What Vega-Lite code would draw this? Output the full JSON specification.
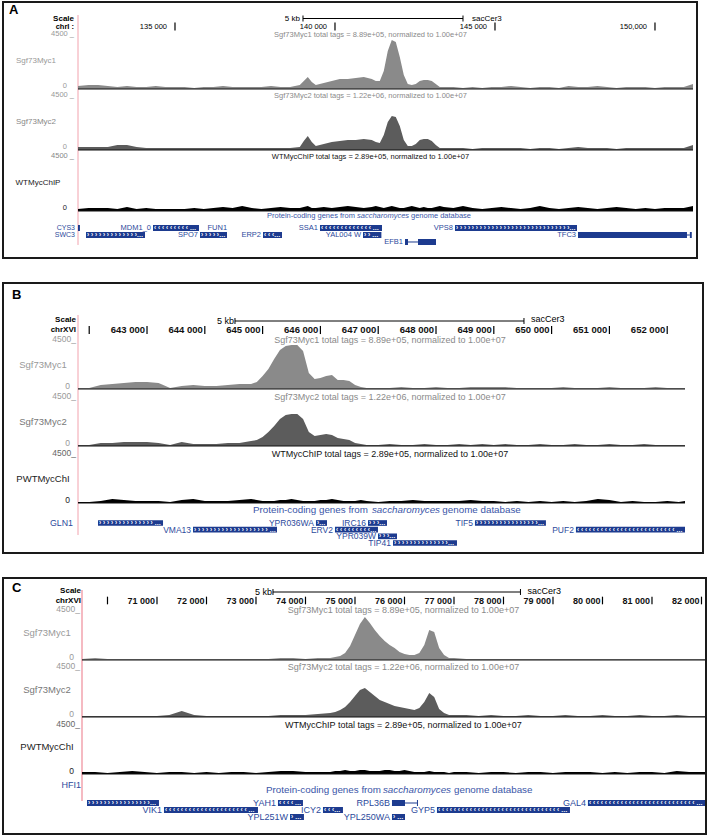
{
"$schema":"https://vega.github.io/schema/vega-lite/v6.json",
"background":"white",
"padding":{"left":2,"top":1,"right":0,"bottom":0},
"spacing":23,
"config":{"font":"Liberation Sans","view":{"stroke":"#1a1a1a","strokeWidth":2}},
"datasets":{
"A":[{"pos":131969,"s1":255,"s2":255,"wt":170},{"pos":132300,"s1":340,"s2":255,"wt":255},{"pos":132600,"s1":340,"s2":255,"wt":255},{"pos":132900,"s1":255,"s2":255,"wt":255},{"pos":133200,"s1":170,"s2":425,"wt":170},{"pos":133500,"s1":255,"s2":425,"wt":340},{"pos":133800,"s1":170,"s2":255,"wt":170},{"pos":134100,"s1":170,"s2":170,"wt":255},{"pos":134400,"s1":255,"s2":170,"wt":170},{"pos":134700,"s1":170,"s2":170,"wt":170},{"pos":135000,"s1":170,"s2":170,"wt":170},{"pos":135300,"s1":170,"s2":170,"wt":170},{"pos":135600,"s1":85,"s2":170,"wt":255},{"pos":135900,"s1":170,"s2":170,"wt":170},{"pos":136200,"s1":170,"s2":170,"wt":255},{"pos":136500,"s1":255,"s2":170,"wt":340},{"pos":136800,"s1":170,"s2":170,"wt":255},{"pos":137100,"s1":170,"s2":170,"wt":425},{"pos":137400,"s1":170,"s2":170,"wt":255},{"pos":137700,"s1":170,"s2":170,"wt":170},{"pos":138000,"s1":255,"s2":170,"wt":255},{"pos":138300,"s1":170,"s2":170,"wt":340},{"pos":138600,"s1":170,"s2":170,"wt":255},{"pos":138900,"s1":340,"s2":255,"wt":255},{"pos":139025,"s1":680,"s2":765,"wt":340},{"pos":139150,"s1":1020,"s2":1190,"wt":425},{"pos":139275,"s1":595,"s2":680,"wt":255},{"pos":139400,"s1":340,"s2":340,"wt":255},{"pos":139650,"s1":510,"s2":510,"wt":340},{"pos":139900,"s1":680,"s2":680,"wt":255},{"pos":140150,"s1":850,"s2":765,"wt":340},{"pos":140400,"s1":850,"s2":850,"wt":425},{"pos":140650,"s1":935,"s2":850,"wt":340},{"pos":140900,"s1":1020,"s2":935,"wt":255},{"pos":141150,"s1":850,"s2":850,"wt":340},{"pos":141275,"s1":680,"s2":680,"wt":425},{"pos":141400,"s1":680,"s2":595,"wt":340},{"pos":141525,"s1":1530,"s2":1275,"wt":255},{"pos":141650,"s1":3230,"s2":2380,"wt":340},{"pos":141775,"s1":4165,"s2":2890,"wt":425},{"pos":141900,"s1":3995,"s2":2805,"wt":340},{"pos":142025,"s1":2720,"s2":2040,"wt":255},{"pos":142150,"s1":1190,"s2":850,"wt":255},{"pos":142275,"s1":425,"s2":340,"wt":340},{"pos":142400,"s1":340,"s2":340,"wt":425},{"pos":142525,"s1":425,"s2":510,"wt":340},{"pos":142650,"s1":680,"s2":850,"wt":255},{"pos":142775,"s1":765,"s2":935,"wt":340},{"pos":142900,"s1":765,"s2":935,"wt":255},{"pos":143025,"s1":680,"s2":765,"wt":255},{"pos":143150,"s1":425,"s2":425,"wt":340},{"pos":143275,"s1":170,"s2":170,"wt":425},{"pos":143400,"s1":170,"s2":170,"wt":340},{"pos":143700,"s1":170,"s2":170,"wt":255},{"pos":144000,"s1":85,"s2":170,"wt":425},{"pos":144300,"s1":170,"s2":85,"wt":255},{"pos":144600,"s1":85,"s2":170,"wt":170},{"pos":144900,"s1":170,"s2":170,"wt":255},{"pos":145200,"s1":170,"s2":170,"wt":340},{"pos":145500,"s1":255,"s2":170,"wt":255},{"pos":145800,"s1":170,"s2":170,"wt":170},{"pos":146100,"s1":85,"s2":85,"wt":255},{"pos":146400,"s1":170,"s2":170,"wt":425},{"pos":146700,"s1":170,"s2":170,"wt":255},{"pos":147000,"s1":85,"s2":85,"wt":170},{"pos":147300,"s1":255,"s2":170,"wt":255},{"pos":147600,"s1":170,"s2":255,"wt":340},{"pos":147900,"s1":170,"s2":170,"wt":255},{"pos":148200,"s1":255,"s2":170,"wt":170},{"pos":148500,"s1":170,"s2":170,"wt":255},{"pos":148800,"s1":85,"s2":85,"wt":340},{"pos":149100,"s1":170,"s2":170,"wt":255},{"pos":149400,"s1":170,"s2":170,"wt":170},{"pos":149700,"s1":170,"s2":170,"wt":255},{"pos":150000,"s1":85,"s2":170,"wt":170},{"pos":150300,"s1":170,"s2":170,"wt":255},{"pos":150600,"s1":170,"s2":170,"wt":255},{"pos":150900,"s1":170,"s2":170,"wt":255},{"pos":151188,"s1":425,"s2":425,"wt":425}],
"B":[{"pos":641806,"s1":94,"s2":94,"wt":94},{"pos":642000,"s1":94,"s2":94,"wt":94},{"pos":642200,"s1":376,"s2":282,"wt":188},{"pos":642400,"s1":470,"s2":282,"wt":376},{"pos":642600,"s1":564,"s2":376,"wt":282},{"pos":642800,"s1":658,"s2":376,"wt":188},{"pos":643000,"s1":658,"s2":376,"wt":188},{"pos":643200,"s1":564,"s2":282,"wt":188},{"pos":643400,"s1":94,"s2":94,"wt":94},{"pos":643600,"s1":282,"s2":376,"wt":282},{"pos":643800,"s1":376,"s2":188,"wt":376},{"pos":644000,"s1":282,"s2":188,"wt":188},{"pos":644200,"s1":282,"s2":188,"wt":188},{"pos":644400,"s1":376,"s2":282,"wt":188},{"pos":644600,"s1":470,"s2":282,"wt":282},{"pos":644800,"s1":470,"s2":470,"wt":376},{"pos":644900,"s1":658,"s2":564,"wt":282},{"pos":645000,"s1":1222,"s2":846,"wt":188},{"pos":645100,"s1":1880,"s2":1316,"wt":188},{"pos":645200,"s1":2820,"s2":1880,"wt":188},{"pos":645300,"s1":3666,"s2":2538,"wt":282},{"pos":645400,"s1":4042,"s2":2914,"wt":282},{"pos":645500,"s1":4136,"s2":3008,"wt":376},{"pos":645600,"s1":4136,"s2":3008,"wt":282},{"pos":645700,"s1":3572,"s2":2538,"wt":188},{"pos":645800,"s1":1504,"s2":1316,"wt":188},{"pos":645900,"s1":940,"s2":940,"wt":188},{"pos":646000,"s1":1034,"s2":1034,"wt":282},{"pos":646100,"s1":1222,"s2":1128,"wt":282},{"pos":646200,"s1":1316,"s2":1034,"wt":376},{"pos":646300,"s1":846,"s2":752,"wt":282},{"pos":646400,"s1":846,"s2":658,"wt":188},{"pos":646500,"s1":752,"s2":564,"wt":188},{"pos":646600,"s1":376,"s2":282,"wt":188},{"pos":646700,"s1":188,"s2":188,"wt":282},{"pos":646800,"s1":94,"s2":94,"wt":188},{"pos":647000,"s1":94,"s2":94,"wt":94},{"pos":647200,"s1":94,"s2":188,"wt":188},{"pos":647400,"s1":188,"s2":94,"wt":188},{"pos":647600,"s1":94,"s2":94,"wt":282},{"pos":647800,"s1":94,"s2":188,"wt":188},{"pos":648000,"s1":188,"s2":94,"wt":188},{"pos":648200,"s1":94,"s2":94,"wt":188},{"pos":648400,"s1":94,"s2":188,"wt":188},{"pos":648600,"s1":188,"s2":94,"wt":282},{"pos":648800,"s1":188,"s2":188,"wt":188},{"pos":649000,"s1":188,"s2":94,"wt":188},{"pos":649200,"s1":188,"s2":188,"wt":94},{"pos":649400,"s1":94,"s2":94,"wt":188},{"pos":649600,"s1":94,"s2":94,"wt":94},{"pos":649800,"s1":94,"s2":188,"wt":188},{"pos":650000,"s1":94,"s2":94,"wt":94},{"pos":650200,"s1":188,"s2":94,"wt":188},{"pos":650400,"s1":94,"s2":188,"wt":94},{"pos":650600,"s1":94,"s2":94,"wt":188},{"pos":650800,"s1":94,"s2":94,"wt":376},{"pos":651000,"s1":188,"s2":188,"wt":282},{"pos":651200,"s1":94,"s2":94,"wt":94},{"pos":651400,"s1":94,"s2":94,"wt":188},{"pos":651600,"s1":94,"s2":188,"wt":94},{"pos":651800,"s1":188,"s2":94,"wt":94},{"pos":652000,"s1":94,"s2":94,"wt":188},{"pos":652200,"s1":94,"s2":94,"wt":94},{"pos":652308,"s1":94,"s2":94,"wt":188}],
"C":[{"pos":69485,"s1":92,"s2":92,"wt":184},{"pos":69750,"s1":184,"s2":92,"wt":184},{"pos":70000,"s1":92,"s2":92,"wt":92},{"pos":70250,"s1":92,"s2":92,"wt":184},{"pos":70500,"s1":92,"s2":92,"wt":276},{"pos":70750,"s1":92,"s2":92,"wt":184},{"pos":71000,"s1":92,"s2":92,"wt":92},{"pos":71250,"s1":92,"s2":184,"wt":184},{"pos":71500,"s1":92,"s2":552,"wt":184},{"pos":71750,"s1":92,"s2":184,"wt":92},{"pos":72000,"s1":92,"s2":92,"wt":184},{"pos":72250,"s1":92,"s2":92,"wt":92},{"pos":72500,"s1":92,"s2":92,"wt":184},{"pos":72750,"s1":92,"s2":92,"wt":184},{"pos":73000,"s1":92,"s2":92,"wt":92},{"pos":73250,"s1":92,"s2":92,"wt":184},{"pos":73500,"s1":184,"s2":184,"wt":276},{"pos":73750,"s1":184,"s2":184,"wt":276},{"pos":74000,"s1":92,"s2":184,"wt":184},{"pos":74250,"s1":184,"s2":276,"wt":184},{"pos":74500,"s1":184,"s2":368,"wt":184},{"pos":74600,"s1":276,"s2":460,"wt":276},{"pos":74700,"s1":368,"s2":644,"wt":276},{"pos":74800,"s1":644,"s2":920,"wt":368},{"pos":74900,"s1":1288,"s2":1380,"wt":276},{"pos":75000,"s1":2300,"s2":1932,"wt":276},{"pos":75100,"s1":3312,"s2":2484,"wt":368},{"pos":75200,"s1":3956,"s2":2668,"wt":368},{"pos":75300,"s1":3404,"s2":2300,"wt":276},{"pos":75400,"s1":2760,"s2":1932,"wt":276},{"pos":75500,"s1":2208,"s2":1564,"wt":276},{"pos":75600,"s1":1748,"s2":1380,"wt":368},{"pos":75700,"s1":1380,"s2":1196,"wt":368},{"pos":75800,"s1":1104,"s2":1012,"wt":276},{"pos":75900,"s1":736,"s2":920,"wt":276},{"pos":76000,"s1":552,"s2":828,"wt":368},{"pos":76100,"s1":460,"s2":736,"wt":276},{"pos":76200,"s1":460,"s2":644,"wt":184},{"pos":76300,"s1":644,"s2":828,"wt":184},{"pos":76400,"s1":1380,"s2":1380,"wt":184},{"pos":76500,"s1":2760,"s2":2208,"wt":276},{"pos":76600,"s1":2576,"s2":1840,"wt":184},{"pos":76700,"s1":1104,"s2":736,"wt":184},{"pos":76800,"s1":460,"s2":368,"wt":184},{"pos":76900,"s1":184,"s2":184,"wt":92},{"pos":77000,"s1":184,"s2":184,"wt":184},{"pos":77250,"s1":92,"s2":184,"wt":184},{"pos":77500,"s1":92,"s2":92,"wt":92},{"pos":77750,"s1":92,"s2":184,"wt":184},{"pos":78000,"s1":92,"s2":92,"wt":184},{"pos":78250,"s1":92,"s2":92,"wt":92},{"pos":78500,"s1":92,"s2":184,"wt":184},{"pos":78750,"s1":92,"s2":92,"wt":184},{"pos":79000,"s1":92,"s2":92,"wt":92},{"pos":79250,"s1":92,"s2":184,"wt":184},{"pos":79500,"s1":92,"s2":92,"wt":184},{"pos":79750,"s1":92,"s2":92,"wt":184},{"pos":80000,"s1":92,"s2":184,"wt":92},{"pos":80250,"s1":92,"s2":92,"wt":184},{"pos":80500,"s1":92,"s2":92,"wt":92},{"pos":80750,"s1":92,"s2":184,"wt":184},{"pos":81000,"s1":92,"s2":92,"wt":184},{"pos":81250,"s1":92,"s2":92,"wt":92},{"pos":81500,"s1":92,"s2":184,"wt":276},{"pos":81750,"s1":92,"s2":92,"wt":184},{"pos":82000,"s1":92,"s2":92,"wt":184},{"pos":82071,"s1":92,"s2":92,"wt":184}],
"gA":[{"g":"CYS3","s":131969,"e":132030,"r":1,"d":"","m":1},{"g":"MDM1_0","s":134313,"e":135750,"r":1,"d":"-","m":0},{"g":"FUN1","s":136690,"e":136690,"r":1,"d":"","m":0},{"g":"SSA1","s":139531,"e":141469,"r":1,"d":"-","m":0},{"g":"VPS8","s":143750,"e":147563,"r":1,"d":"+","m":0},{"g":"SWC3","s":132219,"e":134063,"r":2,"d":"+","m":1},{"g":"SPO7","s":135781,"e":136625,"r":2,"d":"+","m":0},{"g":"ERP2","s":137750,"e":138344,"r":2,"d":"-","m":0},{"g":"YAL004 W","s":140875,"e":141450,"r":2,"d":"+","m":0},{"g":"TFC3","s":147594,"e":151000,"r":2,"d":"","m":0},{"g":"","s":151090,"e":151150,"r":2,"d":"","m":0},{"g":"EFB1","s":142188,"e":142281,"r":3,"d":"","m":0},{"g":"","s":142594,"e":143156,"r":3,"d":"","m":0}],
"iA":[{"s":142281,"e":142594,"r":3},{"s":151000,"e":151090,"r":2}],
"gB":[{"g":"GLN1","s":642152,"e":643277,"r":1,"d":"+","m":1},{"g":"YPR036WA","s":645923,"e":646114,"r":1,"d":"+","m":0},{"g":"IRC16","s":646823,"e":647152,"r":1,"d":"+","m":0},{"g":"TIF5","s":648674,"e":649902,"r":1,"d":"+","m":0},{"g":"VMA13","s":643796,"e":645249,"r":2,"d":"+","m":0},{"g":"ERV2","s":646252,"e":646996,"r":2,"d":"-","m":0},{"g":"PUF2","s":650421,"e":652308,"r":2,"d":"-","m":0},{"g":"YPR039W","s":646996,"e":647325,"r":3,"d":"+","m":0},{"g":"TIP41","s":647256,"e":648363,"r":4,"d":"+","m":0}],
"gC":[{"g":"HFI1","s":69586,"e":71040,"r":1,"d":"+","m":1},{"g":"YAH1","s":73444,"e":73949,"r":1,"d":"-","m":0},{"g":"RPL36B","s":75747,"e":76010,"r":1,"d":"","m":0},{"g":"","s":76252,"e":76272,"r":1,"d":"","m":0},{"g":"GAL4","s":79706,"e":82071,"r":1,"d":"-","m":0},{"g":"VIK1","s":71141,"e":73040,"r":2,"d":"-","m":0},{"g":"ICY2","s":74353,"e":74757,"r":2,"d":"-","m":0},{"g":"GYP5","s":76656,"e":79343,"r":2,"d":"-","m":0},{"g":"YPL251W","s":73687,"e":73969,"r":3,"d":"+","m":0},{"g":"YPL250WA","s":75747,"e":76010,"r":3,"d":"+","m":0}],
"iC":[{"s":76010,"e":76252,"r":1}]
},
"vconcat":[
{
"width":694,"height":256,
"resolve":{"scale":{"y":"independent"}},
"layer":[
{"layer":[
{"data":{"values":[{}]},"mark":{"type":"rule","color":"#f2a3ae","strokeWidth":1},"encoding":{"x":{"datum":131969,"type":"quantitative","scale":{"domain":[131969,151188],"range":[75,690],"nice":false,"zero":false},"axis":null},"y":{"datum":-0.4375,"type":"quantitative","scale":{"domain":[0,1],"range":[16.5,24.5],"nice":false,"zero":false},"axis":null},"y2":{"datum":28.31}}},
{"data":{"values":[{"t":"A"}]},"mark":{"type":"text","align":"left","baseline":"middle","dx":-69,"fontSize":13,"fontWeight":"bold","color":"#000"},"encoding":{"x":{"datum":131969,"type":"quantitative","scale":{"domain":[131969,151188],"range":[75,690],"nice":false,"zero":false},"axis":null},"y":{"datum":-1.0625,"type":"quantitative","scale":{"domain":[0,1],"range":[16.5,24.5],"nice":false,"zero":false},"axis":null},"text":{"field":"t"}}},
{"data":{"values":[{"t":"Scale"}]},"mark":{"type":"text","align":"right","baseline":"middle","dx":-4,"fontSize":8,"fontWeight":"bold","color":"#000"},"encoding":{"x":{"datum":131969,"type":"quantitative","scale":{"domain":[131969,151188],"range":[75,690],"nice":false,"zero":false},"axis":null},"y":{"datum":0,"type":"quantitative","scale":{"domain":[0,1],"range":[16.5,24.5],"nice":false,"zero":false},"axis":null},"text":{"field":"t"}}},
{"data":{"values":[{"t":"chrI :"}]},"mark":{"type":"text","align":"right","baseline":"middle","dx":-4,"fontSize":7.5,"fontWeight":"bold","color":"#000"},"encoding":{"x":{"datum":131969,"type":"quantitative","scale":{"domain":[131969,151188],"range":[75,690],"nice":false,"zero":false},"axis":null},"y":{"datum":1,"type":"quantitative","scale":{"domain":[0,1],"range":[16.5,24.5],"nice":false,"zero":false},"axis":null},"text":{"field":"t"}}},
{"data":{"values":[{"t":"5 kb"}]},"mark":{"type":"text","align":"right","baseline":"middle","dx":-3,"fontSize":8,"color":"#000"},"encoding":{"x":{"datum":139000,"type":"quantitative","scale":{"domain":[131969,151188],"range":[75,690],"nice":false,"zero":false},"axis":null},"y":{"datum":0,"type":"quantitative","scale":{"domain":[0,1],"range":[16.5,24.5],"nice":false,"zero":false},"axis":null},"text":{"field":"t"}}},
{"data":{"values":[{"t":"sacCer3"}]},"mark":{"type":"text","align":"left","baseline":"middle","dx":9,"fontSize":8,"color":"#000"},"encoding":{"x":{"datum":144000,"type":"quantitative","scale":{"domain":[131969,151188],"range":[75,690],"nice":false,"zero":false},"axis":null},"y":{"datum":0,"type":"quantitative","scale":{"domain":[0,1],"range":[16.5,24.5],"nice":false,"zero":false},"axis":null},"text":{"field":"t"}}},
{"data":{"values":[{}]},"mark":{"type":"rule","color":"#000","strokeWidth":1},"encoding":{"x":{"datum":139000,"type":"quantitative","scale":{"domain":[131969,151188],"range":[75,690],"nice":false,"zero":false},"axis":null},"x2":{"datum":144000},"y":{"datum":0,"type":"quantitative","scale":{"domain":[0,1],"range":[16.5,24.5],"nice":false,"zero":false},"axis":null}}},
{"data":{"values":[{"p":139000},{"p":144000}]},"mark":{"type":"rule","color":"#000","strokeWidth":1},"encoding":{"x":{"field":"p","type":"quantitative","scale":{"domain":[131969,151188],"range":[75,690],"nice":false,"zero":false},"axis":null},"y":{"datum":-0.375,"type":"quantitative","scale":{"domain":[0,1],"range":[16.5,24.5],"nice":false,"zero":false},"axis":null},"y2":{"datum":0.375}}},
{"data":{"values":[{"p":135000,"t":"135 000"},{"p":140000,"t":"140 000"},{"p":145000,"t":"145 000"},{"p":150000,"t":"150,000"}]},"mark":{"type":"text","align":"right","baseline":"middle","dx":-8,"fontSize":7.5,"color":"#000"},"encoding":{"x":{"field":"p","type":"quantitative","scale":{"domain":[131969,151188],"range":[75,690],"nice":false,"zero":false},"axis":null},"y":{"datum":1,"type":"quantitative","scale":{"domain":[0,1],"range":[16.5,24.5],"nice":false,"zero":false},"axis":null},"text":{"field":"t"}}},
{"data":{"values":[{"p":135000},{"p":140000},{"p":145000},{"p":150000}]},"mark":{"type":"rule","color":"#000","strokeWidth":1.2},"encoding":{"x":{"field":"p","type":"quantitative","scale":{"domain":[131969,151188],"range":[75,690],"nice":false,"zero":false},"axis":null},"y":{"datum":0.5,"type":"quantitative","scale":{"domain":[0,1],"range":[16.5,24.5],"nice":false,"zero":false},"axis":null},"y2":{"datum":1.5}}}
]},
{"layer":[
{"data":{"name":"A"},"mark":{"type":"area","color":"#8a8a8a"},"encoding":{"x":{"field":"pos","type":"quantitative","scale":{"domain":[131969,151188],"range":[75,690],"nice":false,"zero":false},"axis":null},"y":{"field":"s1","type":"quantitative","scale":{"domain":[0,4500],"range":[87,34],"nice":false,"zero":false},"axis":null}}},
{"data":{"values":[{}]},"mark":{"type":"rule","color":"#111","strokeWidth":1.2},"encoding":{"x":{"datum":131969,"type":"quantitative","scale":{"domain":[131969,151188],"range":[75,690],"nice":false,"zero":false},"axis":null},"x2":{"datum":151188},"y":{"datum":0,"type":"quantitative","scale":{"domain":[0,4500],"range":[87,34],"nice":false,"zero":false},"axis":null}}},
{"data":{"values":[{"t":"4500 _"}]},"mark":{"type":"text","align":"right","baseline":"middle","dx":-4,"dy":-2,"fontSize":7.5,"color":"#999"},"encoding":{"x":{"datum":131969,"type":"quantitative","scale":{"domain":[131969,151188],"range":[75,690],"nice":false,"zero":false},"axis":null},"y":{"datum":4500,"type":"quantitative","scale":{"domain":[0,4500],"range":[87,34],"nice":false,"zero":false},"axis":null},"text":{"field":"t"}}},
{"data":{"values":[{"t":"0"}]},"mark":{"type":"text","align":"right","baseline":"middle","dx":-11,"dy":-3,"fontSize":7.5,"color":"#999"},"encoding":{"x":{"datum":131969,"type":"quantitative","scale":{"domain":[131969,151188],"range":[75,690],"nice":false,"zero":false},"axis":null},"y":{"datum":0,"type":"quantitative","scale":{"domain":[0,4500],"range":[87,34],"nice":false,"zero":false},"axis":null},"text":{"field":"t"}}},
{"data":{"values":[{"t":"Sgf73Myc1"}]},"mark":{"type":"text","align":"center","baseline":"middle","dx":-42,"dy":-2,"fontSize":8,"color":"#999"},"encoding":{"x":{"datum":131969,"type":"quantitative","scale":{"domain":[131969,151188],"range":[75,690],"nice":false,"zero":false},"axis":null},"y":{"datum":2250,"type":"quantitative","scale":{"domain":[0,4500],"range":[87,34],"nice":false,"zero":false},"axis":null},"text":{"field":"t"}}},
{"data":{"values":[{"t":"Sgf73Myc1 total tags = 8.89e+05, normalized to 1.00e+07"}]},"mark":{"type":"text","align":"center","baseline":"middle","dy":-1.5,"fontSize":7.5,"color":"#8a8a8a"},"encoding":{"x":{"datum":141109,"type":"quantitative","scale":{"domain":[131969,151188],"range":[75,690],"nice":false,"zero":false},"axis":null},"y":{"datum":4500,"type":"quantitative","scale":{"domain":[0,4500],"range":[87,34],"nice":false,"zero":false},"axis":null},"text":{"field":"t"}}}
]},
{"layer":[
{"data":{"name":"A"},"mark":{"type":"area","color":"#5c5c5c"},"encoding":{"x":{"field":"pos","type":"quantitative","scale":{"domain":[131969,151188],"range":[75,690],"nice":false,"zero":false},"axis":null},"y":{"field":"s2","type":"quantitative","scale":{"domain":[0,4500],"range":[148,95],"nice":false,"zero":false},"axis":null}}},
{"data":{"values":[{}]},"mark":{"type":"rule","color":"#111","strokeWidth":1.2},"encoding":{"x":{"datum":131969,"type":"quantitative","scale":{"domain":[131969,151188],"range":[75,690],"nice":false,"zero":false},"axis":null},"x2":{"datum":151188},"y":{"datum":0,"type":"quantitative","scale":{"domain":[0,4500],"range":[148,95],"nice":false,"zero":false},"axis":null}}},
{"data":{"values":[{"t":"4500 _"}]},"mark":{"type":"text","align":"right","baseline":"middle","dx":-4,"dy":-2,"fontSize":7.5,"color":"#999"},"encoding":{"x":{"datum":131969,"type":"quantitative","scale":{"domain":[131969,151188],"range":[75,690],"nice":false,"zero":false},"axis":null},"y":{"datum":4500,"type":"quantitative","scale":{"domain":[0,4500],"range":[148,95],"nice":false,"zero":false},"axis":null},"text":{"field":"t"}}},
{"data":{"values":[{"t":"0"}]},"mark":{"type":"text","align":"right","baseline":"middle","dx":-11,"dy":-3,"fontSize":7.5,"color":"#999"},"encoding":{"x":{"datum":131969,"type":"quantitative","scale":{"domain":[131969,151188],"range":[75,690],"nice":false,"zero":false},"axis":null},"y":{"datum":0,"type":"quantitative","scale":{"domain":[0,4500],"range":[148,95],"nice":false,"zero":false},"axis":null},"text":{"field":"t"}}},
{"data":{"values":[{"t":"Sgf73Myc2"}]},"mark":{"type":"text","align":"center","baseline":"middle","dx":-42,"dy":-2,"fontSize":8,"color":"#888"},"encoding":{"x":{"datum":131969,"type":"quantitative","scale":{"domain":[131969,151188],"range":[75,690],"nice":false,"zero":false},"axis":null},"y":{"datum":2250,"type":"quantitative","scale":{"domain":[0,4500],"range":[148,95],"nice":false,"zero":false},"axis":null},"text":{"field":"t"}}},
{"data":{"values":[{"t":"Sgf73Myc2 total tags = 1.22e+06, normalized to 1.00e+07"}]},"mark":{"type":"text","align":"center","baseline":"middle","dy":-1.5,"fontSize":7.5,"color":"#8a8a8a"},"encoding":{"x":{"datum":141109,"type":"quantitative","scale":{"domain":[131969,151188],"range":[75,690],"nice":false,"zero":false},"axis":null},"y":{"datum":4500,"type":"quantitative","scale":{"domain":[0,4500],"range":[148,95],"nice":false,"zero":false},"axis":null},"text":{"field":"t"}}}
]},
{"layer":[
{"data":{"name":"A"},"mark":{"type":"area","color":"#000"},"encoding":{"x":{"field":"pos","type":"quantitative","scale":{"domain":[131969,151188],"range":[75,690],"nice":false,"zero":false},"axis":null},"y":{"field":"wt","type":"quantitative","scale":{"domain":[0,4500],"range":[209,156],"nice":false,"zero":false},"axis":null}}},
{"data":{"values":[{}]},"mark":{"type":"rule","color":"#111","strokeWidth":1.2},"encoding":{"x":{"datum":131969,"type":"quantitative","scale":{"domain":[131969,151188],"range":[75,690],"nice":false,"zero":false},"axis":null},"x2":{"datum":151188},"y":{"datum":0,"type":"quantitative","scale":{"domain":[0,4500],"range":[209,156],"nice":false,"zero":false},"axis":null}}},
{"data":{"values":[{"t":"4500 _"}]},"mark":{"type":"text","align":"right","baseline":"middle","dx":-4,"dy":-2,"fontSize":7.5,"color":"#888"},"encoding":{"x":{"datum":131969,"type":"quantitative","scale":{"domain":[131969,151188],"range":[75,690],"nice":false,"zero":false},"axis":null},"y":{"datum":4500,"type":"quantitative","scale":{"domain":[0,4500],"range":[209,156],"nice":false,"zero":false},"axis":null},"text":{"field":"t"}}},
{"data":{"values":[{"t":"0"}]},"mark":{"type":"text","align":"right","baseline":"middle","dx":-11,"dy":-3,"fontSize":7.5,"color":"#222"},"encoding":{"x":{"datum":131969,"type":"quantitative","scale":{"domain":[131969,151188],"range":[75,690],"nice":false,"zero":false},"axis":null},"y":{"datum":0,"type":"quantitative","scale":{"domain":[0,4500],"range":[209,156],"nice":false,"zero":false},"axis":null},"text":{"field":"t"}}},
{"data":{"values":[{"t":"WTMycChIP"}]},"mark":{"type":"text","align":"center","baseline":"middle","dx":-40,"dy":-2,"fontSize":8,"color":"#222"},"encoding":{"x":{"datum":131969,"type":"quantitative","scale":{"domain":[131969,151188],"range":[75,690],"nice":false,"zero":false},"axis":null},"y":{"datum":2250,"type":"quantitative","scale":{"domain":[0,4500],"range":[209,156],"nice":false,"zero":false},"axis":null},"text":{"field":"t"}}},
{"data":{"values":[{"t":"WTMycChIP total tags = 2.89e+05, normalized to 1.00e+07"}]},"mark":{"type":"text","align":"center","baseline":"middle","dy":-1.5,"fontSize":7.5,"color":"#111"},"encoding":{"x":{"datum":141109,"type":"quantitative","scale":{"domain":[131969,151188],"range":[75,690],"nice":false,"zero":false},"axis":null},"y":{"datum":4500,"type":"quantitative","scale":{"domain":[0,4500],"range":[209,156],"nice":false,"zero":false},"axis":null},"text":{"field":"t"}}}
]},
{"layer":[
{"data":{"name":"gA"},"mark":{"type":"rect","color":"#1d3b8f"},"encoding":{"x":{"field":"s","type":"quantitative","scale":{"domain":[131969,151188],"range":[75,690],"nice":false,"zero":false},"axis":null},"x2":{"field":"e"},"y":{"field":"r","type":"ordinal","scale":{"type":"band","domain":[1,2,3],"range":[222,244],"paddingInner":0.143,"paddingOuter":0.143},"axis":null}}},
{"data":{"name":"iA"},"mark":{"type":"rule","color":"#1d3b8f","strokeWidth":1},"encoding":{"x":{"field":"s","type":"quantitative","scale":{"domain":[131969,151188],"range":[75,690],"nice":false,"zero":false},"axis":null},"x2":{"field":"e"},"y":{"field":"r","type":"ordinal","bandPosition":0.5,"scale":{"type":"band","domain":[1,2,3],"range":[222,244],"paddingInner":0.143,"paddingOuter":0.143},"axis":null}}},
{"data":{"name":"gA"},"transform":[{"filter":"datum.d !== ''"}],"mark":{"type":"text","align":"left","baseline":"middle","dx":1,"fontSize":6.5,"fontWeight":"bold","color":"#ffffff","limit":{"expr":"(datum.e - datum.s) * 0.032 - 2"},"ellipsis":""},"encoding":{"x":{"field":"s","type":"quantitative","scale":{"domain":[131969,151188],"range":[75,690],"nice":false,"zero":false},"axis":null},"y":{"field":"r","type":"ordinal","bandPosition":0.5,"scale":{"type":"band","domain":[1,2,3],"range":[222,244],"paddingInner":0.143,"paddingOuter":0.143},"axis":null},"text":{"condition":{"test":"datum.d === '+'","value":"› › › › › › › › › › › › › › › › › › › › › › › › › › › › › › › › › › › › › › › ›"},"value":"‹ ‹ ‹ ‹ ‹ ‹ ‹ ‹ ‹ ‹ ‹ ‹ ‹ ‹ ‹ ‹ ‹ ‹ ‹ ‹ ‹ ‹ ‹ ‹ ‹ ‹ ‹ ‹ ‹ ‹ ‹ ‹ ‹ ‹ ‹ ‹ ‹ ‹ ‹ ‹"}}},
{"data":{"name":"gA"},"transform":[{"filter":"datum.m === 0 && datum.g !== ''"}],"mark":{"type":"text","align":"right","baseline":"middle","dx":-2,"fontSize":7.5,"color":"#2c4a9c"},"encoding":{"x":{"field":"s","type":"quantitative","scale":{"domain":[131969,151188],"range":[75,690],"nice":false,"zero":false},"axis":null},"y":{"field":"r","type":"ordinal","bandPosition":0.5,"scale":{"type":"band","domain":[1,2,3],"range":[222,244],"paddingInner":0.143,"paddingOuter":0.143},"axis":null},"text":{"field":"g"}}},
{"data":{"name":"gA"},"transform":[{"filter":"datum.m === 1"}],"mark":{"type":"text","align":"right","baseline":"middle","dx":-3,"fontSize":7,"color":"#2c4a9c"},"encoding":{"x":{"datum":131969,"type":"quantitative","scale":{"domain":[131969,151188],"range":[75,690],"nice":false,"zero":false},"axis":null},"y":{"field":"r","type":"ordinal","bandPosition":0.5,"scale":{"type":"band","domain":[1,2,3],"range":[222,244],"paddingInner":0.143,"paddingOuter":0.143},"axis":null},"text":{"field":"g"}}},
{"data":{"values":[{"t":"Protein-coding genes from"}]},"mark":{"type":"text","align":"right","baseline":"middle","dy":-12,"fontSize":7.5,"color":"#3a56a8"},"encoding":{"x":{"datum":140625,"type":"quantitative","scale":{"domain":[131969,151188],"range":[75,690],"nice":false,"zero":false},"axis":null},"y":{"datum":1,"type":"ordinal","scale":{"type":"band","domain":[1,2,3],"range":[222,244],"paddingInner":0.143,"paddingOuter":0.143},"axis":null},"text":{"field":"t"}}},
{"data":{"values":[{"t":"saccharomyces"}]},"mark":{"type":"text","align":"left","baseline":"middle","dy":-12,"fontSize":7.5,"fontStyle":"italic","color":"#3a56a8"},"encoding":{"x":{"datum":140688,"type":"quantitative","scale":{"domain":[131969,151188],"range":[75,690],"nice":false,"zero":false},"axis":null},"y":{"datum":1,"type":"ordinal","scale":{"type":"band","domain":[1,2,3],"range":[222,244],"paddingInner":0.143,"paddingOuter":0.143},"axis":null},"text":{"field":"t"}}},
{"data":{"values":[{"t":"genome database"}]},"mark":{"type":"text","align":"left","baseline":"middle","dy":-12,"fontSize":7.5,"color":"#3a56a8"},"encoding":{"x":{"datum":142375,"type":"quantitative","scale":{"domain":[131969,151188],"range":[75,690],"nice":false,"zero":false},"axis":null},"y":{"datum":1,"type":"ordinal","scale":{"type":"band","domain":[1,2,3],"range":[222,244],"paddingInner":0.143,"paddingOuter":0.143},"axis":null},"text":{"field":"t"}}}
]}
]
},
{
"width":700,"height":270,
"resolve":{"scale":{"y":"independent"}},
"layer":[
{"layer":[
{"data":{"values":[{}]},"mark":{"type":"rule","color":"#f2a3ae","strokeWidth":1},"encoding":{"x":{"datum":641806,"type":"quantitative","scale":{"domain":[641806,652308],"range":[75,682],"nice":false,"zero":false},"axis":null},"y":{"datum":-0.667,"type":"quantitative","scale":{"domain":[0,1],"range":[38,47],"nice":false,"zero":false},"axis":null},"y2":{"datum":23.78}}},
{"data":{"values":[{"t":"B"}]},"mark":{"type":"text","align":"left","baseline":"middle","dx":-66,"fontSize":13,"fontWeight":"bold","color":"#000"},"encoding":{"x":{"datum":641806,"type":"quantitative","scale":{"domain":[641806,652308],"range":[75,682],"nice":false,"zero":false},"axis":null},"y":{"datum":-2.89,"type":"quantitative","scale":{"domain":[0,1],"range":[38,47],"nice":false,"zero":false},"axis":null},"text":{"field":"t"}}},
{"data":{"values":[{"t":"Scale"}]},"mark":{"type":"text","align":"right","baseline":"middle","dx":-2,"fontSize":8,"fontWeight":"bold","color":"#000"},"encoding":{"x":{"datum":641806,"type":"quantitative","scale":{"domain":[641806,652308],"range":[75,682],"nice":false,"zero":false},"axis":null},"y":{"datum":-0.1,"type":"quantitative","scale":{"domain":[0,1],"range":[38,47],"nice":false,"zero":false},"axis":null},"text":{"field":"t"}}},
{"data":{"values":[{"t":"chrXVI"}]},"mark":{"type":"text","align":"right","baseline":"middle","dx":-2,"fontSize":8,"fontWeight":"bold","color":"#000"},"encoding":{"x":{"datum":641806,"type":"quantitative","scale":{"domain":[641806,652308],"range":[75,682],"nice":false,"zero":false},"axis":null},"y":{"datum":1,"type":"quantitative","scale":{"domain":[0,1],"range":[38,47],"nice":false,"zero":false},"axis":null},"text":{"field":"t"}}},
{"data":{"values":[{"t":"5 kb"}]},"mark":{"type":"text","align":"right","baseline":"middle","dx":-1,"fontSize":9,"color":"#000"},"encoding":{"x":{"datum":644522,"type":"quantitative","scale":{"domain":[641806,652308],"range":[75,682],"nice":false,"zero":false},"axis":null},"y":{"datum":0,"type":"quantitative","scale":{"domain":[0,1],"range":[38,47],"nice":false,"zero":false},"axis":null},"text":{"field":"t"}}},
{"data":{"values":[{"t":"sacCer3"}]},"mark":{"type":"text","align":"left","baseline":"middle","dx":7,"fontSize":9,"color":"#000"},"encoding":{"x":{"datum":649522,"type":"quantitative","scale":{"domain":[641806,652308],"range":[75,682],"nice":false,"zero":false},"axis":null},"y":{"datum":-0.2,"type":"quantitative","scale":{"domain":[0,1],"range":[38,47],"nice":false,"zero":false},"axis":null},"text":{"field":"t"}}},
{"data":{"values":[{}]},"mark":{"type":"rule","color":"#000","strokeWidth":1},"encoding":{"x":{"datum":644522,"type":"quantitative","scale":{"domain":[641806,652308],"range":[75,682],"nice":false,"zero":false},"axis":null},"x2":{"datum":649522},"y":{"datum":0,"type":"quantitative","scale":{"domain":[0,1],"range":[38,47],"nice":false,"zero":false},"axis":null}}},
{"data":{"values":[{"p":644522},{"p":649522}]},"mark":{"type":"rule","color":"#000","strokeWidth":1},"encoding":{"x":{"field":"p","type":"quantitative","scale":{"domain":[641806,652308],"range":[75,682],"nice":false,"zero":false},"axis":null},"y":{"datum":-0.333,"type":"quantitative","scale":{"domain":[0,1],"range":[38,47],"nice":false,"zero":false},"axis":null},"y2":{"datum":0.333}}},
{"data":{"values":[{"p":643000,"t":"643 000"},{"p":644000,"t":"644 000"},{"p":645000,"t":"645 000"},{"p":646000,"t":"646 000"},{"p":647000,"t":"647 000"},{"p":648000,"t":"648 000"},{"p":649000,"t":"649 000"},{"p":650000,"t":"650 000"},{"p":651000,"t":"651 000"},{"p":652000,"t":"652 000"}]},"mark":{"type":"text","align":"right","baseline":"middle","dx":-2,"fontSize":9.5,"fontWeight":"bold","color":"#111"},"encoding":{"x":{"field":"p","type":"quantitative","scale":{"domain":[641806,652308],"range":[75,682],"nice":false,"zero":false},"axis":null},"y":{"datum":1,"type":"quantitative","scale":{"domain":[0,1],"range":[38,47],"nice":false,"zero":false},"axis":null},"text":{"field":"t"}}},
{"data":{"values":[{"p":642000},{"p":643000},{"p":644000},{"p":645000},{"p":646000},{"p":647000},{"p":648000},{"p":649000},{"p":650000},{"p":651000},{"p":652000}]},"mark":{"type":"rule","color":"#000","strokeWidth":1.2},"encoding":{"x":{"field":"p","type":"quantitative","scale":{"domain":[641806,652308],"range":[75,682],"nice":false,"zero":false},"axis":null},"y":{"datum":0.55,"type":"quantitative","scale":{"domain":[0,1],"range":[38,47],"nice":false,"zero":false},"axis":null},"y2":{"datum":1.45}}}
]},
{"layer":[
{"data":{"name":"B"},"mark":{"type":"area","color":"#8a8a8a"},"encoding":{"x":{"field":"pos","type":"quantitative","scale":{"domain":[641806,652308],"range":[75,682],"nice":false,"zero":false},"axis":null},"y":{"field":"s1","type":"quantitative","scale":{"domain":[0,4500],"range":[106,58],"nice":false,"zero":false},"axis":null}}},
{"data":{"values":[{}]},"mark":{"type":"rule","color":"#111","strokeWidth":1.2},"encoding":{"x":{"datum":641806,"type":"quantitative","scale":{"domain":[641806,652308],"range":[75,682],"nice":false,"zero":false},"axis":null},"x2":{"datum":652308},"y":{"datum":0,"type":"quantitative","scale":{"domain":[0,4500],"range":[106,58],"nice":false,"zero":false},"axis":null}}},
{"data":{"values":[{"t":"4500_"}]},"mark":{"type":"text","align":"right","baseline":"middle","dx":-2,"dy":-2,"fontSize":8.5,"color":"#999"},"encoding":{"x":{"datum":641806,"type":"quantitative","scale":{"domain":[641806,652308],"range":[75,682],"nice":false,"zero":false},"axis":null},"y":{"datum":4500,"type":"quantitative","scale":{"domain":[0,4500],"range":[106,58],"nice":false,"zero":false},"axis":null},"text":{"field":"t"}}},
{"data":{"values":[{"t":"0"}]},"mark":{"type":"text","align":"right","baseline":"middle","dx":-8,"dy":-3,"fontSize":8.5,"color":"#999"},"encoding":{"x":{"datum":641806,"type":"quantitative","scale":{"domain":[641806,652308],"range":[75,682],"nice":false,"zero":false},"axis":null},"y":{"datum":0,"type":"quantitative","scale":{"domain":[0,4500],"range":[106,58],"nice":false,"zero":false},"axis":null},"text":{"field":"t"}}},
{"data":{"values":[{"t":"Sgf73Myc1"}]},"mark":{"type":"text","align":"center","baseline":"middle","dx":-35,"dy":0,"fontSize":9.5,"color":"#999"},"encoding":{"x":{"datum":641806,"type":"quantitative","scale":{"domain":[641806,652308],"range":[75,682],"nice":false,"zero":false},"axis":null},"y":{"datum":2250,"type":"quantitative","scale":{"domain":[0,4500],"range":[106,58],"nice":false,"zero":false},"axis":null},"text":{"field":"t"}}},
{"data":{"values":[{"t":"Sgf73Myc1 total tags = 8.89e+05, normalized to 1.00e+07"}]},"mark":{"type":"text","align":"center","baseline":"middle","dy":-1,"fontSize":9,"color":"#8a8a8a"},"encoding":{"x":{"datum":647204,"type":"quantitative","scale":{"domain":[641806,652308],"range":[75,682],"nice":false,"zero":false},"axis":null},"y":{"datum":4500,"type":"quantitative","scale":{"domain":[0,4500],"range":[106,58],"nice":false,"zero":false},"axis":null},"text":{"field":"t"}}}
]},
{"layer":[
{"data":{"name":"B"},"mark":{"type":"area","color":"#5c5c5c"},"encoding":{"x":{"field":"pos","type":"quantitative","scale":{"domain":[641806,652308],"range":[75,682],"nice":false,"zero":false},"axis":null},"y":{"field":"s2","type":"quantitative","scale":{"domain":[0,4500],"range":[163,115],"nice":false,"zero":false},"axis":null}}},
{"data":{"values":[{}]},"mark":{"type":"rule","color":"#111","strokeWidth":1.2},"encoding":{"x":{"datum":641806,"type":"quantitative","scale":{"domain":[641806,652308],"range":[75,682],"nice":false,"zero":false},"axis":null},"x2":{"datum":652308},"y":{"datum":0,"type":"quantitative","scale":{"domain":[0,4500],"range":[163,115],"nice":false,"zero":false},"axis":null}}},
{"data":{"values":[{"t":"4500_"}]},"mark":{"type":"text","align":"right","baseline":"middle","dx":-2,"dy":-2,"fontSize":8.5,"color":"#999"},"encoding":{"x":{"datum":641806,"type":"quantitative","scale":{"domain":[641806,652308],"range":[75,682],"nice":false,"zero":false},"axis":null},"y":{"datum":4500,"type":"quantitative","scale":{"domain":[0,4500],"range":[163,115],"nice":false,"zero":false},"axis":null},"text":{"field":"t"}}},
{"data":{"values":[{"t":"0"}]},"mark":{"type":"text","align":"right","baseline":"middle","dx":-8,"dy":-3,"fontSize":8.5,"color":"#999"},"encoding":{"x":{"datum":641806,"type":"quantitative","scale":{"domain":[641806,652308],"range":[75,682],"nice":false,"zero":false},"axis":null},"y":{"datum":0,"type":"quantitative","scale":{"domain":[0,4500],"range":[163,115],"nice":false,"zero":false},"axis":null},"text":{"field":"t"}}},
{"data":{"values":[{"t":"Sgf73Myc2"}]},"mark":{"type":"text","align":"center","baseline":"middle","dx":-35,"dy":0,"fontSize":9.5,"color":"#777"},"encoding":{"x":{"datum":641806,"type":"quantitative","scale":{"domain":[641806,652308],"range":[75,682],"nice":false,"zero":false},"axis":null},"y":{"datum":2250,"type":"quantitative","scale":{"domain":[0,4500],"range":[163,115],"nice":false,"zero":false},"axis":null},"text":{"field":"t"}}},
{"data":{"values":[{"t":"Sgf73Myc2 total tags = 1.22e+06, normalized to 1.00e+07"}]},"mark":{"type":"text","align":"center","baseline":"middle","dy":-1,"fontSize":9,"color":"#8a8a8a"},"encoding":{"x":{"datum":647204,"type":"quantitative","scale":{"domain":[641806,652308],"range":[75,682],"nice":false,"zero":false},"axis":null},"y":{"datum":4500,"type":"quantitative","scale":{"domain":[0,4500],"range":[163,115],"nice":false,"zero":false},"axis":null},"text":{"field":"t"}}}
]},
{"layer":[
{"data":{"name":"B"},"mark":{"type":"area","color":"#000"},"encoding":{"x":{"field":"pos","type":"quantitative","scale":{"domain":[641806,652308],"range":[75,682],"nice":false,"zero":false},"axis":null},"y":{"field":"wt","type":"quantitative","scale":{"domain":[0,4500],"range":[220,172],"nice":false,"zero":false},"axis":null}}},
{"data":{"values":[{}]},"mark":{"type":"rule","color":"#111","strokeWidth":1.2},"encoding":{"x":{"datum":641806,"type":"quantitative","scale":{"domain":[641806,652308],"range":[75,682],"nice":false,"zero":false},"axis":null},"x2":{"datum":652308},"y":{"datum":0,"type":"quantitative","scale":{"domain":[0,4500],"range":[220,172],"nice":false,"zero":false},"axis":null}}},
{"data":{"values":[{"t":"4500_"}]},"mark":{"type":"text","align":"right","baseline":"middle","dx":-2,"dy":-2,"fontSize":8.5,"color":"#666"},"encoding":{"x":{"datum":641806,"type":"quantitative","scale":{"domain":[641806,652308],"range":[75,682],"nice":false,"zero":false},"axis":null},"y":{"datum":4500,"type":"quantitative","scale":{"domain":[0,4500],"range":[220,172],"nice":false,"zero":false},"axis":null},"text":{"field":"t"}}},
{"data":{"values":[{"t":"0"}]},"mark":{"type":"text","align":"right","baseline":"middle","dx":-8,"dy":-3,"fontSize":8.5,"color":"#222"},"encoding":{"x":{"datum":641806,"type":"quantitative","scale":{"domain":[641806,652308],"range":[75,682],"nice":false,"zero":false},"axis":null},"y":{"datum":0,"type":"quantitative","scale":{"domain":[0,4500],"range":[220,172],"nice":false,"zero":false},"axis":null},"text":{"field":"t"}}},
{"data":{"values":[{"t":"PWTMycChI"}]},"mark":{"type":"text","align":"center","baseline":"middle","dx":-35,"dy":0,"fontSize":9.5,"color":"#222"},"encoding":{"x":{"datum":641806,"type":"quantitative","scale":{"domain":[641806,652308],"range":[75,682],"nice":false,"zero":false},"axis":null},"y":{"datum":2250,"type":"quantitative","scale":{"domain":[0,4500],"range":[220,172],"nice":false,"zero":false},"axis":null},"text":{"field":"t"}}},
{"data":{"values":[{"t":"WTMycChIP total tags = 2.89e+05, normalized to 1.00e+07"}]},"mark":{"type":"text","align":"center","baseline":"middle","dy":-1,"fontSize":9,"color":"#111"},"encoding":{"x":{"datum":647204,"type":"quantitative","scale":{"domain":[641806,652308],"range":[75,682],"nice":false,"zero":false},"axis":null},"y":{"datum":4500,"type":"quantitative","scale":{"domain":[0,4500],"range":[220,172],"nice":false,"zero":false},"axis":null},"text":{"field":"t"}}}
]},
{"layer":[
{"data":{"name":"gB"},"mark":{"type":"rect","color":"#1d3b8f"},"encoding":{"x":{"field":"s","type":"quantitative","scale":{"domain":[641806,652308],"range":[75,682],"nice":false,"zero":false},"axis":null},"x2":{"field":"e"},"y":{"field":"r","type":"ordinal","scale":{"type":"band","domain":[1,2,3,4],"range":[236.2,263.8],"paddingInner":0.143,"paddingOuter":0.143},"axis":null}}},
{"data":{"name":"gB"},"transform":[{"filter":"datum.d !== ''"}],"mark":{"type":"text","align":"left","baseline":"middle","dx":1,"fontSize":6.5,"fontWeight":"bold","color":"#ffffff","limit":{"expr":"(datum.e - datum.s) * 0.0578 - 2"},"ellipsis":""},"encoding":{"x":{"field":"s","type":"quantitative","scale":{"domain":[641806,652308],"range":[75,682],"nice":false,"zero":false},"axis":null},"y":{"field":"r","type":"ordinal","bandPosition":0.5,"scale":{"type":"band","domain":[1,2,3,4],"range":[236.2,263.8],"paddingInner":0.143,"paddingOuter":0.143},"axis":null},"text":{"condition":{"test":"datum.d === '+'","value":"› › › › › › › › › › › › › › › › › › › › › › › › › › › › › › › › › › › › › › › › › › › › › ›"},"value":"‹ ‹ ‹ ‹ ‹ ‹ ‹ ‹ ‹ ‹ ‹ ‹ ‹ ‹ ‹ ‹ ‹ ‹ ‹ ‹ ‹ ‹ ‹ ‹ ‹ ‹ ‹ ‹ ‹ ‹ ‹ ‹ ‹ ‹ ‹ ‹ ‹ ‹ ‹ ‹ ‹ ‹ ‹ ‹ ‹ ‹"}}},
{"data":{"name":"gB"},"transform":[{"filter":"datum.m === 0 && datum.g !== ''"}],"mark":{"type":"text","align":"right","baseline":"middle","dx":-2,"fontSize":8.5,"color":"#2c4a9c"},"encoding":{"x":{"field":"s","type":"quantitative","scale":{"domain":[641806,652308],"range":[75,682],"nice":false,"zero":false},"axis":null},"y":{"field":"r","type":"ordinal","bandPosition":0.5,"scale":{"type":"band","domain":[1,2,3,4],"range":[236.2,263.8],"paddingInner":0.143,"paddingOuter":0.143},"axis":null},"text":{"field":"g"}}},
{"data":{"name":"gB"},"transform":[{"filter":"datum.m === 1"}],"mark":{"type":"text","align":"right","baseline":"middle","dx":-5,"fontSize":8.8,"color":"#2c4a9c"},"encoding":{"x":{"datum":641806,"type":"quantitative","scale":{"domain":[641806,652308],"range":[75,682],"nice":false,"zero":false},"axis":null},"y":{"field":"r","type":"ordinal","bandPosition":0.5,"scale":{"type":"band","domain":[1,2,3,4],"range":[236.2,263.8],"paddingInner":0.143,"paddingOuter":0.143},"axis":null},"text":{"field":"g"}}},
{"data":{"values":[{"t":"Protein-coding genes from"}]},"mark":{"type":"text","align":"right","baseline":"middle","dy":-13,"fontSize":9.8,"color":"#3a56a8"},"encoding":{"x":{"datum":646823,"type":"quantitative","scale":{"domain":[641806,652308],"range":[75,682],"nice":false,"zero":false},"axis":null},"y":{"datum":1,"type":"ordinal","scale":{"type":"band","domain":[1,2,3,4],"range":[236.2,263.8],"paddingInner":0.143,"paddingOuter":0.143},"axis":null},"text":{"field":"t"}}},
{"data":{"values":[{"t":"saccharomyces"}]},"mark":{"type":"text","align":"left","baseline":"middle","dy":-13,"fontSize":9.8,"fontStyle":"italic","color":"#3a56a8"},"encoding":{"x":{"datum":646892,"type":"quantitative","scale":{"domain":[641806,652308],"range":[75,682],"nice":false,"zero":false},"axis":null},"y":{"datum":1,"type":"ordinal","scale":{"type":"band","domain":[1,2,3,4],"range":[236.2,263.8],"paddingInner":0.143,"paddingOuter":0.143},"axis":null},"text":{"field":"t"}}},
{"data":{"values":[{"t":"genome database"}]},"mark":{"type":"text","align":"left","baseline":"middle","dy":-13,"fontSize":9.8,"color":"#3a56a8"},"encoding":{"x":{"datum":648110,"type":"quantitative","scale":{"domain":[641806,652308],"range":[75,682],"nice":false,"zero":false},"axis":null},"y":{"datum":1,"type":"ordinal","scale":{"type":"band","domain":[1,2,3,4],"range":[236.2,263.8],"paddingInner":0.143,"paddingOuter":0.143},"axis":null},"text":{"field":"t"}}}
]}
]
},
{
"width":703,"height":256,
"resolve":{"scale":{"y":"independent"}},
"layer":[
{"layer":[
{"data":{"values":[{}]},"mark":{"type":"rule","color":"#f2a3ae","strokeWidth":1.5},"encoding":{"x":{"datum":69485,"type":"quantitative","scale":{"domain":[69485,82071],"range":[79,702],"nice":false,"zero":false},"axis":null},"y":{"datum":-0.235,"type":"quantitative","scale":{"domain":[0,1],"range":[14,22.5],"nice":false,"zero":false},"axis":null},"y2":{"datum":24.59}}},
{"data":{"values":[{"t":"C"}]},"mark":{"type":"text","align":"left","baseline":"middle","dx":-70,"fontSize":13,"fontWeight":"bold","color":"#000"},"encoding":{"x":{"datum":69485,"type":"quantitative","scale":{"domain":[69485,82071],"range":[79,702],"nice":false,"zero":false},"axis":null},"y":{"datum":-0.47,"type":"quantitative","scale":{"domain":[0,1],"range":[14,22.5],"nice":false,"zero":false},"axis":null},"text":{"field":"t"}}},
{"data":{"values":[{"t":"Scale"}]},"mark":{"type":"text","align":"right","baseline":"middle","dx":-1,"fontSize":8,"fontWeight":"bold","color":"#000"},"encoding":{"x":{"datum":69485,"type":"quantitative","scale":{"domain":[69485,82071],"range":[79,702],"nice":false,"zero":false},"axis":null},"y":{"datum":-0.12,"type":"quantitative","scale":{"domain":[0,1],"range":[14,22.5],"nice":false,"zero":false},"axis":null},"text":{"field":"t"}}},
{"data":{"values":[{"t":"chrXVI"}]},"mark":{"type":"text","align":"right","baseline":"middle","dx":-1,"fontSize":8,"fontWeight":"bold","color":"#000"},"encoding":{"x":{"datum":69485,"type":"quantitative","scale":{"domain":[69485,82071],"range":[79,702],"nice":false,"zero":false},"axis":null},"y":{"datum":1,"type":"quantitative","scale":{"domain":[0,1],"range":[14,22.5],"nice":false,"zero":false},"axis":null},"text":{"field":"t"}}},
{"data":{"values":[{"t":"5 kb"}]},"mark":{"type":"text","align":"right","baseline":"middle","dx":-1,"fontSize":9,"color":"#000"},"encoding":{"x":{"datum":73343,"type":"quantitative","scale":{"domain":[69485,82071],"range":[79,702],"nice":false,"zero":false},"axis":null},"y":{"datum":0,"type":"quantitative","scale":{"domain":[0,1],"range":[14,22.5],"nice":false,"zero":false},"axis":null},"text":{"field":"t"}}},
{"data":{"values":[{"t":"sacCer3"}]},"mark":{"type":"text","align":"left","baseline":"middle","dx":7,"fontSize":9,"color":"#000"},"encoding":{"x":{"datum":78343,"type":"quantitative","scale":{"domain":[69485,82071],"range":[79,702],"nice":false,"zero":false},"axis":null},"y":{"datum":-0.06,"type":"quantitative","scale":{"domain":[0,1],"range":[14,22.5],"nice":false,"zero":false},"axis":null},"text":{"field":"t"}}},
{"data":{"values":[{}]},"mark":{"type":"rule","color":"#000","strokeWidth":1},"encoding":{"x":{"datum":73343,"type":"quantitative","scale":{"domain":[69485,82071],"range":[79,702],"nice":false,"zero":false},"axis":null},"x2":{"datum":78343},"y":{"datum":0,"type":"quantitative","scale":{"domain":[0,1],"range":[14,22.5],"nice":false,"zero":false},"axis":null}}},
{"data":{"values":[{"p":73343},{"p":78343}]},"mark":{"type":"rule","color":"#000","strokeWidth":1},"encoding":{"x":{"field":"p","type":"quantitative","scale":{"domain":[69485,82071],"range":[79,702],"nice":false,"zero":false},"axis":null},"y":{"datum":-0.35,"type":"quantitative","scale":{"domain":[0,1],"range":[14,22.5],"nice":false,"zero":false},"axis":null},"y2":{"datum":0.35}}},
{"data":{"values":[{"p":71000,"t":"71 000"},{"p":72000,"t":"72 000"},{"p":73000,"t":"73 000"},{"p":74000,"t":"74 000"},{"p":75000,"t":"75 000"},{"p":76000,"t":"76 000"},{"p":77000,"t":"77 000"},{"p":78000,"t":"78 000"},{"p":79000,"t":"79 000"},{"p":80000,"t":"80 000"},{"p":81000,"t":"81 000"},{"p":82000,"t":"82 000"}]},"mark":{"type":"text","align":"right","baseline":"middle","dx":-2,"fontSize":9,"fontWeight":"bold","color":"#111"},"encoding":{"x":{"field":"p","type":"quantitative","scale":{"domain":[69485,82071],"range":[79,702],"nice":false,"zero":false},"axis":null},"y":{"datum":1,"type":"quantitative","scale":{"domain":[0,1],"range":[14,22.5],"nice":false,"zero":false},"axis":null},"text":{"field":"t"}}},
{"data":{"values":[{"p":70000},{"p":71000},{"p":72000},{"p":73000},{"p":74000},{"p":75000},{"p":76000},{"p":77000},{"p":78000},{"p":79000},{"p":80000},{"p":81000},{"p":82000}]},"mark":{"type":"rule","color":"#000","strokeWidth":1.2},"encoding":{"x":{"field":"p","type":"quantitative","scale":{"domain":[69485,82071],"range":[79,702],"nice":false,"zero":false},"axis":null},"y":{"datum":0.55,"type":"quantitative","scale":{"domain":[0,1],"range":[14,22.5],"nice":false,"zero":false},"axis":null},"y2":{"datum":1.45}}}
]},
{"layer":[
{"data":{"name":"C"},"mark":{"type":"area","color":"#8a8a8a"},"encoding":{"x":{"field":"pos","type":"quantitative","scale":{"domain":[69485,82071],"range":[79,702],"nice":false,"zero":false},"axis":null},"y":{"field":"s1","type":"quantitative","scale":{"domain":[0,4500],"range":[82,33],"nice":false,"zero":false},"axis":null}}},
{"data":{"values":[{}]},"mark":{"type":"rule","color":"#111","strokeWidth":1.2},"encoding":{"x":{"datum":69485,"type":"quantitative","scale":{"domain":[69485,82071],"range":[79,702],"nice":false,"zero":false},"axis":null},"x2":{"datum":82071},"y":{"datum":0,"type":"quantitative","scale":{"domain":[0,4500],"range":[82,33],"nice":false,"zero":false},"axis":null}}},
{"data":{"values":[{"t":"4500_"}]},"mark":{"type":"text","align":"right","baseline":"middle","dx":-2,"dy":-2,"fontSize":8.5,"color":"#999"},"encoding":{"x":{"datum":69485,"type":"quantitative","scale":{"domain":[69485,82071],"range":[79,702],"nice":false,"zero":false},"axis":null},"y":{"datum":4500,"type":"quantitative","scale":{"domain":[0,4500],"range":[82,33],"nice":false,"zero":false},"axis":null},"text":{"field":"t"}}},
{"data":{"values":[{"t":"0"}]},"mark":{"type":"text","align":"right","baseline":"middle","dx":-8,"dy":-3,"fontSize":8.5,"color":"#999"},"encoding":{"x":{"datum":69485,"type":"quantitative","scale":{"domain":[69485,82071],"range":[79,702],"nice":false,"zero":false},"axis":null},"y":{"datum":0,"type":"quantitative","scale":{"domain":[0,4500],"range":[82,33],"nice":false,"zero":false},"axis":null},"text":{"field":"t"}}},
{"data":{"values":[{"t":"Sgf73Myc1"}]},"mark":{"type":"text","align":"center","baseline":"middle","dx":-35,"dy":-3,"fontSize":9.5,"color":"#999"},"encoding":{"x":{"datum":69485,"type":"quantitative","scale":{"domain":[69485,82071],"range":[79,702],"nice":false,"zero":false},"axis":null},"y":{"datum":2250,"type":"quantitative","scale":{"domain":[0,4500],"range":[82,33],"nice":false,"zero":false},"axis":null},"text":{"field":"t"}}},
{"data":{"values":[{"t":"Sgf73Myc1 total tags = 8.89e+05, normalized to 1.00e+07"}]},"mark":{"type":"text","align":"center","baseline":"middle","dy":-1,"fontSize":9,"color":"#8a8a8a"},"encoding":{"x":{"datum":75979,"type":"quantitative","scale":{"domain":[69485,82071],"range":[79,702],"nice":false,"zero":false},"axis":null},"y":{"datum":4500,"type":"quantitative","scale":{"domain":[0,4500],"range":[82,33],"nice":false,"zero":false},"axis":null},"text":{"field":"t"}}}
]},
{"layer":[
{"data":{"name":"C"},"mark":{"type":"area","color":"#5c5c5c"},"encoding":{"x":{"field":"pos","type":"quantitative","scale":{"domain":[69485,82071],"range":[79,702],"nice":false,"zero":false},"axis":null},"y":{"field":"s2","type":"quantitative","scale":{"domain":[0,4500],"range":[139,90],"nice":false,"zero":false},"axis":null}}},
{"data":{"values":[{}]},"mark":{"type":"rule","color":"#111","strokeWidth":1.2},"encoding":{"x":{"datum":69485,"type":"quantitative","scale":{"domain":[69485,82071],"range":[79,702],"nice":false,"zero":false},"axis":null},"x2":{"datum":82071},"y":{"datum":0,"type":"quantitative","scale":{"domain":[0,4500],"range":[139,90],"nice":false,"zero":false},"axis":null}}},
{"data":{"values":[{"t":"4500_"}]},"mark":{"type":"text","align":"right","baseline":"middle","dx":-2,"dy":-2,"fontSize":8.5,"color":"#999"},"encoding":{"x":{"datum":69485,"type":"quantitative","scale":{"domain":[69485,82071],"range":[79,702],"nice":false,"zero":false},"axis":null},"y":{"datum":4500,"type":"quantitative","scale":{"domain":[0,4500],"range":[139,90],"nice":false,"zero":false},"axis":null},"text":{"field":"t"}}},
{"data":{"values":[{"t":"0"}]},"mark":{"type":"text","align":"right","baseline":"middle","dx":-8,"dy":-3,"fontSize":8.5,"color":"#999"},"encoding":{"x":{"datum":69485,"type":"quantitative","scale":{"domain":[69485,82071],"range":[79,702],"nice":false,"zero":false},"axis":null},"y":{"datum":0,"type":"quantitative","scale":{"domain":[0,4500],"range":[139,90],"nice":false,"zero":false},"axis":null},"text":{"field":"t"}}},
{"data":{"values":[{"t":"Sgf73Myc2"}]},"mark":{"type":"text","align":"center","baseline":"middle","dx":-35,"dy":-3,"fontSize":9.5,"color":"#777"},"encoding":{"x":{"datum":69485,"type":"quantitative","scale":{"domain":[69485,82071],"range":[79,702],"nice":false,"zero":false},"axis":null},"y":{"datum":2250,"type":"quantitative","scale":{"domain":[0,4500],"range":[139,90],"nice":false,"zero":false},"axis":null},"text":{"field":"t"}}},
{"data":{"values":[{"t":"Sgf73Myc2 total tags = 1.22e+06, normalized to 1.00e+07"}]},"mark":{"type":"text","align":"center","baseline":"middle","dy":-1,"fontSize":9,"color":"#8a8a8a"},"encoding":{"x":{"datum":75979,"type":"quantitative","scale":{"domain":[69485,82071],"range":[79,702],"nice":false,"zero":false},"axis":null},"y":{"datum":4500,"type":"quantitative","scale":{"domain":[0,4500],"range":[139,90],"nice":false,"zero":false},"axis":null},"text":{"field":"t"}}}
]},
{"layer":[
{"data":{"name":"C"},"mark":{"type":"area","color":"#000"},"encoding":{"x":{"field":"pos","type":"quantitative","scale":{"domain":[69485,82071],"range":[79,702],"nice":false,"zero":false},"axis":null},"y":{"field":"wt","type":"quantitative","scale":{"domain":[0,4500],"range":[196,148],"nice":false,"zero":false},"axis":null}}},
{"data":{"values":[{}]},"mark":{"type":"rule","color":"#111","strokeWidth":1.2},"encoding":{"x":{"datum":69485,"type":"quantitative","scale":{"domain":[69485,82071],"range":[79,702],"nice":false,"zero":false},"axis":null},"x2":{"datum":82071},"y":{"datum":0,"type":"quantitative","scale":{"domain":[0,4500],"range":[196,148],"nice":false,"zero":false},"axis":null}}},
{"data":{"values":[{"t":"4500_"}]},"mark":{"type":"text","align":"right","baseline":"middle","dx":-2,"dy":-2,"fontSize":8.5,"color":"#666"},"encoding":{"x":{"datum":69485,"type":"quantitative","scale":{"domain":[69485,82071],"range":[79,702],"nice":false,"zero":false},"axis":null},"y":{"datum":4500,"type":"quantitative","scale":{"domain":[0,4500],"range":[196,148],"nice":false,"zero":false},"axis":null},"text":{"field":"t"}}},
{"data":{"values":[{"t":"0"}]},"mark":{"type":"text","align":"right","baseline":"middle","dx":-8,"dy":-3,"fontSize":8.5,"color":"#222"},"encoding":{"x":{"datum":69485,"type":"quantitative","scale":{"domain":[69485,82071],"range":[79,702],"nice":false,"zero":false},"axis":null},"y":{"datum":0,"type":"quantitative","scale":{"domain":[0,4500],"range":[196,148],"nice":false,"zero":false},"axis":null},"text":{"field":"t"}}},
{"data":{"values":[{"t":"PWTMycChI"}]},"mark":{"type":"text","align":"center","baseline":"middle","dx":-35,"dy":-3,"fontSize":9.5,"color":"#222"},"encoding":{"x":{"datum":69485,"type":"quantitative","scale":{"domain":[69485,82071],"range":[79,702],"nice":false,"zero":false},"axis":null},"y":{"datum":2250,"type":"quantitative","scale":{"domain":[0,4500],"range":[196,148],"nice":false,"zero":false},"axis":null},"text":{"field":"t"}}},
{"data":{"values":[{"t":"WTMycChIP total tags = 2.89e+05, normalized to 1.00e+07"}]},"mark":{"type":"text","align":"center","baseline":"middle","dy":-1,"fontSize":9,"color":"#111"},"encoding":{"x":{"datum":75979,"type":"quantitative","scale":{"domain":[69485,82071],"range":[79,702],"nice":false,"zero":false},"axis":null},"y":{"datum":4500,"type":"quantitative","scale":{"domain":[0,4500],"range":[196,148],"nice":false,"zero":false},"axis":null},"text":{"field":"t"}}}
]},
{"layer":[
{"data":{"name":"gC"},"mark":{"type":"rect","color":"#1d3b8f"},"encoding":{"x":{"field":"s","type":"quantitative","scale":{"domain":[69485,82071],"range":[79,702],"nice":false,"zero":false},"axis":null},"x2":{"field":"e"},"y":{"field":"r","type":"ordinal","scale":{"type":"band","domain":[1,2,3],"range":[221,243],"paddingInner":0.143,"paddingOuter":0.143},"axis":null}}},
{"data":{"name":"iC"},"mark":{"type":"rule","color":"#1d3b8f","strokeWidth":1},"encoding":{"x":{"field":"s","type":"quantitative","scale":{"domain":[69485,82071],"range":[79,702],"nice":false,"zero":false},"axis":null},"x2":{"field":"e"},"y":{"field":"r","type":"ordinal","bandPosition":0.5,"scale":{"type":"band","domain":[1,2,3],"range":[221,243],"paddingInner":0.143,"paddingOuter":0.143},"axis":null}}},
{"data":{"name":"gC"},"transform":[{"filter":"datum.d !== ''"}],"mark":{"type":"text","align":"left","baseline":"middle","dx":1,"fontSize":6.5,"fontWeight":"bold","color":"#ffffff","limit":{"expr":"(datum.e - datum.s) * 0.0495 - 2"},"ellipsis":""},"encoding":{"x":{"field":"s","type":"quantitative","scale":{"domain":[69485,82071],"range":[79,702],"nice":false,"zero":false},"axis":null},"y":{"field":"r","type":"ordinal","bandPosition":0.5,"scale":{"type":"band","domain":[1,2,3],"range":[221,243],"paddingInner":0.143,"paddingOuter":0.143},"axis":null},"text":{"condition":{"test":"datum.d === '+'","value":"› › › › › › › › › › › › › › › › › › › › › › › › › › › › › › › › › › › › › › › › › › › › › ›"},"value":"‹ ‹ ‹ ‹ ‹ ‹ ‹ ‹ ‹ ‹ ‹ ‹ ‹ ‹ ‹ ‹ ‹ ‹ ‹ ‹ ‹ ‹ ‹ ‹ ‹ ‹ ‹ ‹ ‹ ‹ ‹ ‹ ‹ ‹ ‹ ‹ ‹ ‹ ‹ ‹ ‹ ‹ ‹ ‹ ‹ ‹"}}},
{"data":{"name":"gC"},"transform":[{"filter":"datum.m === 0 && datum.g !== ''"}],"mark":{"type":"text","align":"right","baseline":"middle","dx":-2,"fontSize":9,"color":"#2c4a9c"},"encoding":{"x":{"field":"s","type":"quantitative","scale":{"domain":[69485,82071],"range":[79,702],"nice":false,"zero":false},"axis":null},"y":{"field":"r","type":"ordinal","bandPosition":0.5,"scale":{"type":"band","domain":[1,2,3],"range":[221,243],"paddingInner":0.143,"paddingOuter":0.143},"axis":null},"text":{"field":"g"}}},
{"data":{"name":"gC"},"transform":[{"filter":"datum.m === 1"}],"mark":{"type":"text","align":"right","baseline":"middle","dx":-1,"dy":-18,"fontSize":9,"color":"#2c4a9c"},"encoding":{"x":{"datum":69485,"type":"quantitative","scale":{"domain":[69485,82071],"range":[79,702],"nice":false,"zero":false},"axis":null},"y":{"field":"r","type":"ordinal","bandPosition":0.5,"scale":{"type":"band","domain":[1,2,3],"range":[221,243],"paddingInner":0.143,"paddingOuter":0.143},"axis":null},"text":{"field":"g"}}},
{"data":{"values":[{"t":"Protein-coding genes from"}]},"mark":{"type":"text","align":"right","baseline":"middle","dy":-13,"fontSize":9.8,"color":"#3a56a8"},"encoding":{"x":{"datum":75525,"type":"quantitative","scale":{"domain":[69485,82071],"range":[79,702],"nice":false,"zero":false},"axis":null},"y":{"datum":1,"type":"ordinal","scale":{"type":"band","domain":[1,2,3],"range":[221,243],"paddingInner":0.143,"paddingOuter":0.143},"axis":null},"text":{"field":"t"}}},
{"data":{"values":[{"t":"saccharomyces"}]},"mark":{"type":"text","align":"left","baseline":"middle","dy":-13,"fontSize":9.8,"fontStyle":"italic","color":"#3a56a8"},"encoding":{"x":{"datum":75565,"type":"quantitative","scale":{"domain":[69485,82071],"range":[79,702],"nice":false,"zero":false},"axis":null},"y":{"datum":1,"type":"ordinal","scale":{"type":"band","domain":[1,2,3],"range":[221,243],"paddingInner":0.143,"paddingOuter":0.143},"axis":null},"text":{"field":"t"}}},
{"data":{"values":[{"t":"genome database"}]},"mark":{"type":"text","align":"left","baseline":"middle","dy":-13,"fontSize":9.8,"color":"#3a56a8"},"encoding":{"x":{"datum":77000,"type":"quantitative","scale":{"domain":[69485,82071],"range":[79,702],"nice":false,"zero":false},"axis":null},"y":{"datum":1,"type":"ordinal","scale":{"type":"band","domain":[1,2,3],"range":[221,243],"paddingInner":0.143,"paddingOuter":0.143},"axis":null},"text":{"field":"t"}}}
]}
]
}
]
}
